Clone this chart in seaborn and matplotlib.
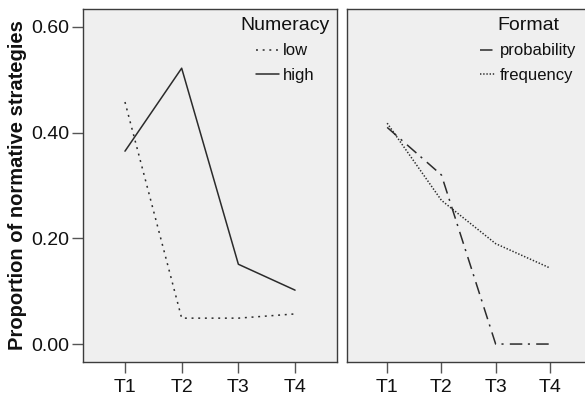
import matplotlib
matplotlib.use("Agg")
import matplotlib.pyplot as plt
import seaborn as sns
import pandas as pd

times = ["T1", "T2", "T3", "T4"]
num_low = [0.458, 0.049, 0.049, 0.057]
num_high = [0.365, 0.522, 0.151, 0.102]
fmt_prob = [0.410, 0.320, 0.000, 0.000]
fmt_freq = [0.418, 0.272, 0.190, 0.144]
y_ticks = [0.0, 0.2, 0.4, 0.6]

sns.set_theme(style="white")
plt.rcParams["font.family"] = ["Liberation Sans", "DejaVu Sans"]
plt.rcParams["lines.scale_dashes"] = False

df_num = pd.DataFrame({
    "time": times * 2,
    "value": num_low + num_high,
    "Numeracy": ["low"] * 4 + ["high"] * 4,
})
df_fmt = pd.DataFrame({
    "time": times * 2,
    "value": fmt_prob + fmt_freq,
    "Format": ["probability"] * 4 + ["frequency"] * 4,
})

fig = plt.figure(figsize=(5.85, 3.99), dpi=100)
ax1 = fig.add_axes([0.1419, 0.0927, 0.4342, 0.8847])
ax2 = fig.add_axes([0.5932, 0.0927, 0.4154, 0.8847])

lc = "#2b2b2b"
sns.lineplot(data=df_num, x="time", y="value", style="Numeracy",
             style_order=["low", "high"],
             dashes={"low": (1.4, 3.4), "high": ""},
             color=lc, linewidth=1.1, ax=ax1, sort=False)
sns.lineplot(data=df_fmt, x="time", y="value", style="Format",
             style_order=["probability", "frequency"],
             dashes={"probability": (9, 4, 1.5, 4.5), "frequency": (1.0, 1.3)},
             color=lc, linewidth=1.1, ax=ax2, sort=False)

for ax in (ax1, ax2):
    ax.set_facecolor("#efefef")
    ax.set_xlim(-0.74, 3.74)
    ax.set_ylim(-0.034, 0.634)
    ax.set_xlabel("")
    for s in ax.spines.values():
        s.set_color("#3c3c3c")
        s.set_linewidth(1.0)
        s.set_visible(True)
    ax.tick_params(axis="x", length=8, width=1, color="#555555",
                   labelsize=14, pad=4, direction="out", bottom=True,
                   labelcolor="#111111")
    ax.set_xticks(range(len(times)))
    ax.set_xticklabels(times)

ax1.set_yticks(y_ticks)
ax1.set_yticklabels([f"{v:.2f}" for v in y_ticks])
ax1.tick_params(axis="y", length=8, width=1, color="#555555",
                labelsize=14, pad=2, direction="out", left=True,
                labelcolor="#111111")
ax1.set_ylabel("Proportion of normative strategies", fontsize=14.5,
               fontweight="bold", labelpad=3, color="#111111")
ax2.set_yticks(y_ticks)
ax2.set_yticklabels([])
ax2.tick_params(axis="y", left=False, length=0)
ax2.set_ylabel("")

h, l = ax1.get_legend_handles_labels()
ax1.legend(h, l, title="Numeracy", loc="upper right",
           bbox_to_anchor=(1.01, 1.005), frameon=False, fontsize=12,
           title_fontsize=14, handlelength=1.4, handletextpad=0.2,
           labelspacing=0.55, borderaxespad=0.2)
h, l = ax2.get_legend_handles_labels()
ax2.legend(h, l, title="Format", loc="upper right",
           bbox_to_anchor=(0.985, 1.005), frameon=False, fontsize=12,
           title_fontsize=14, handlelength=0.9, handletextpad=0.3,
           labelspacing=0.55, borderaxespad=0.2)
for lg in (ax1.get_legend(), ax2.get_legend()):
    for t in lg.get_texts():
        t.set_color("#111111")
    lg.get_title().set_color("#111111")

fig.savefig("out.png", dpi=100, facecolor="white")
